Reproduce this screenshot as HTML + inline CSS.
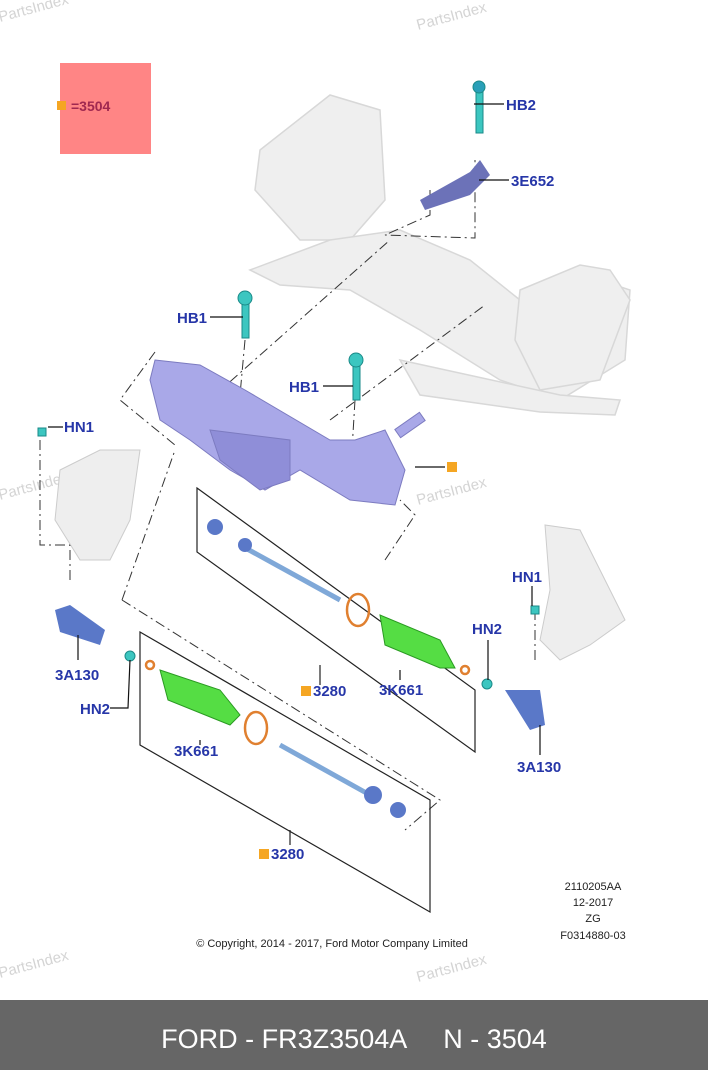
<!DOCTYPE html>
<html><head><style>
body{margin:0;width:708px;height:1070px;background:#fff;overflow:hidden;font-family:"Liberation Sans",sans-serif}
svg{position:absolute;left:0;top:0}
.l{font:bold 15px "Liberation Sans",sans-serif;fill:#2636a8}
.w{font:15px "Liberation Sans",sans-serif;fill:#d4d4d4}
</style></head><body>
<svg width="708" height="1070" viewBox="0 0 708 1070">
<text class="w" x="0" y="22" transform="rotate(-15 0 22)">PartsIndex</text>
<text class="w" x="418" y="30" transform="rotate(-15 418 30)">PartsIndex</text>
<text class="w" x="0" y="500" transform="rotate(-15 0 500)">PartsIndex</text>
<text class="w" x="418" y="505" transform="rotate(-15 418 505)">PartsIndex</text>
<text class="w" x="0" y="978" transform="rotate(-15 0 978)">PartsIndex</text>
<text class="w" x="418" y="982" transform="rotate(-15 418 982)">PartsIndex</text>
<rect x="60" y="63" width="91" height="91" fill="#ff8585"/>
<rect x="57" y="101" width="9" height="9" fill="#f5a623"/>
<text x="71" y="111" font-size="14" font-weight="bold" fill="#a02850">=3504</text>
<g fill="#efefef" stroke="#d8d8d8" stroke-width="1.5">
<path d="M260 150 L330 95 L380 110 L385 200 L350 240 L300 240 L255 190 Z"/>
<path d="M250 270 L330 240 L400 230 L470 260 L520 300 L600 280 L630 290 L625 360 L560 400 L500 380 L420 330 L350 290 L280 285 Z"/>
<path d="M520 290 L580 265 L610 270 L630 300 L600 380 L540 390 L515 340 Z"/>
<path d="M400 360 L560 395 L620 400 L615 415 L540 412 L420 395 Z"/>
</g>
<g stroke="#333" stroke-width="1" fill="none" stroke-dasharray="10,4,2,4">
<path d="M430 190 L430 215 L385 235 L475 238 L475 160"/>
<path d="M155 352 L120 400 L175 445"/>
<path d="M215 395 L390 240"/>
<path d="M330 420 L485 305"/>
<path d="M122 600 L175 450"/>
<path d="M122 600 L440 800 L405 830"/>
<path d="M385 560 L415 515 L400 500"/>
<path d="M40 440 L40 545 L70 545 L70 580"/>
<path d="M535 610 L535 660"/>
<path d="M245 340 L240 395"/>
<path d="M355 400 L352 450"/>
</g>
<g fill="#a9a8e8" stroke="#7c7bc0" stroke-width="1">
<path d="M155 360 L200 365 L245 390 L330 440 L355 440 L385 430 L405 470 L395 505 L350 500 L300 470 L265 490 L230 470 L190 440 L160 420 L150 380 Z"/>
<rect x="395" y="420" width="30" height="10" transform="rotate(-35 410 425)"/>
<path d="M210 430 L290 440 L290 480 L260 490 L220 460 Z" fill="#8f8ed8"/>
</g>
<g fill="#3cc6c0" stroke="#1a8a88">
<rect x="242" y="300" width="7" height="38"/><circle cx="245" cy="298" r="7"/>
<rect x="353" y="362" width="7" height="38"/><circle cx="356" cy="360" r="7"/>
<rect x="476" y="88" width="7" height="45"/><circle cx="479" cy="87" r="6" fill="#2a9fb8"/>
<rect x="38" y="428" width="8" height="8"/>
<rect x="531" y="606" width="8" height="8"/>
<circle cx="130" cy="656" r="5"/><circle cx="487" cy="684" r="5"/>
</g>
<path d="M420 200 L470 172 L480 160 L490 175 L470 195 L425 210 Z" fill="#6c72b8"/>
<g fill="#eee" stroke="#ccc">
<path d="M60 470 L100 450 L140 450 L130 520 L110 560 L80 560 L55 520 Z"/>
<path d="M545 525 L580 530 L605 580 L625 620 L590 645 L560 660 L540 640 L550 590 Z"/>
</g>
<g stroke="#222" fill="none" stroke-width="1.2">
<path d="M197 488 L475 690 L475 752 L197 552 Z"/>
<path d="M140 632 L430 800 L430 912 L140 745 Z"/>
<path d="M320 665 L320 685 M290 830 L290 845"/>
</g>
<g stroke="#7fa8d8" stroke-width="5"><path d="M240 545 L340 600"/><path d="M280 745 L370 795"/></g>
<g fill="#5a78c8"><circle cx="215" cy="527" r="8"/><circle cx="245" cy="545" r="7"/><circle cx="373" cy="795" r="9"/><circle cx="398" cy="810" r="8"/></g>
<g fill="none" stroke="#e08030" stroke-width="2.5"><ellipse cx="358" cy="610" rx="11" ry="16"/><ellipse cx="256" cy="728" rx="11" ry="16"/><circle cx="465" cy="670" r="4"/><circle cx="150" cy="665" r="4"/></g>
<g fill="#55dd44" stroke="#2a9a22"><path d="M380 615 L440 640 L455 668 L440 668 L385 645 Z"/><path d="M160 670 L220 690 L240 715 L230 725 L168 700 Z"/></g>
<g fill="#5a78c8"><path d="M55 610 L70 605 L105 630 L100 645 L60 632 Z"/><path d="M505 690 L540 690 L545 725 L530 730 Z"/></g>
<g stroke="#111" stroke-width="1.2" fill="none"><path d="M474 104 L504 104 M479 180 L509 180 M210 317 L243 317 M323 386 L353 386 M48 427 L63 427 M415 467 L445 467 M78 635 L78 660 M130 660 L128 708 L110 708 M532 586 L532 606 M488 640 L488 680 M540 725 L540 755 M200 740 L200 745 M400 680 L400 670"/></g>
<g class="l">
<text x="506" y="110">HB2</text><text x="511" y="186">3E652</text>
<text x="177" y="323">HB1</text><text x="289" y="392">HB1</text>
<text x="64" y="432">HN1</text><text x="512" y="582">HN1</text>
<text x="472" y="634">HN2</text><text x="80" y="714">HN2</text>
<text x="55" y="680">3A130</text><text x="517" y="772">3A130</text>
<text x="379" y="695">3K661</text><text x="174" y="756">3K661</text>
<text x="313" y="696">3280</text><text x="271" y="859">3280</text>
</g>
<rect x="447" y="462" width="10" height="10" fill="#f5a623"/>
<rect x="301" y="686" width="10" height="10" fill="#f5a623"/>
<rect x="259" y="849" width="10" height="10" fill="#f5a623"/>
<g font-size="11" fill="#222" text-anchor="middle">
<text x="593" y="890">2110205AA</text><text x="593" y="906">12-2017</text><text x="593" y="922">ZG</text><text x="593" y="939">F0314880-03</text>
<text x="332" y="947">© Copyright, 2014 - 2017, Ford Motor Company Limited</text>
</g>
<rect x="0" y="1000" width="708" height="70" fill="#666"/>
<text x="354" y="1048" font-size="27" fill="#fff" text-anchor="middle" xml:space="preserve">FORD - FR3Z3504A     N - 3504</text>
</svg>
</body></html>
